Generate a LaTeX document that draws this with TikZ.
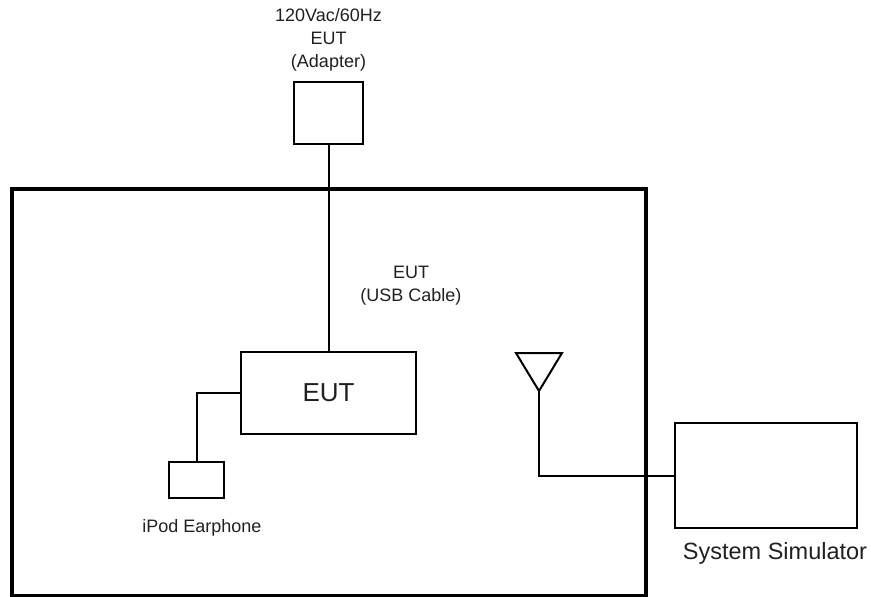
\documentclass[tikz,border=0pt]{standalone}
\usepackage{fontspec}
\setmainfont{Liberation Sans}
\definecolor{txt}{HTML}{202020}
\begin{document}
\begin{tikzpicture}[x=1pt,y=-1pt,
  box/.style={draw=black,line width=2pt,rectangle,inner sep=0pt,outer sep=0pt},
  wire/.style={draw=black,line width=2pt},
  lbl/.style={text=txt,align=center,inner sep=0pt,font=\fontsize{18}{23}\selectfont}]
\useasboundingbox (0,0) rectangle (871,597);
\clip (0,0) rectangle (871,597);
% enclosure
\node[box,line width=4pt,minimum width=634.5pt,minimum height=407pt] (room) at (328.75,392.5) {};
% devices
\node[box,minimum width=69pt,minimum height=62pt] (adapter) at (328.5,113) {};
\node[box,minimum width=175pt,minimum height=82pt,text=txt,font=\fontsize{26}{30}\selectfont] (eut) at (328.5,393) {EUT};
\node[box,minimum width=55pt,minimum height=36pt] (ear) at (196.5,480) {};
\node[box,minimum width=182.5pt,minimum height=105pt] (sim) at (766,475.5) {};
% antenna
\coordinate (antL) at (516,353);
\coordinate (antR) at (562,353);
\coordinate (ant) at (539,391);
\draw[wire,line join=miter] (antL) -- (antR) -- (ant) -- cycle;
% connectors
\draw[wire] (adapter.south) -- (eut.north);
\draw[wire] (eut.west) -| (ear.north);
\draw[wire] (ant) |- (sim.west);
% labels
\node[lbl] (adlbl) at (328.5,40) {120Vac/60Hz\\EUT\\(Adapter)};
\node[lbl] (usblbl) at (411,285.5) {EUT\\(USB Cable)};
\node[lbl] (earlbl) at (202,528) {iPod Earphone};
\node[lbl,font=\fontsize{23.5}{28}\selectfont] (simlbl) at (775,553) {System Simulator};
\end{tikzpicture}
\end{document}
